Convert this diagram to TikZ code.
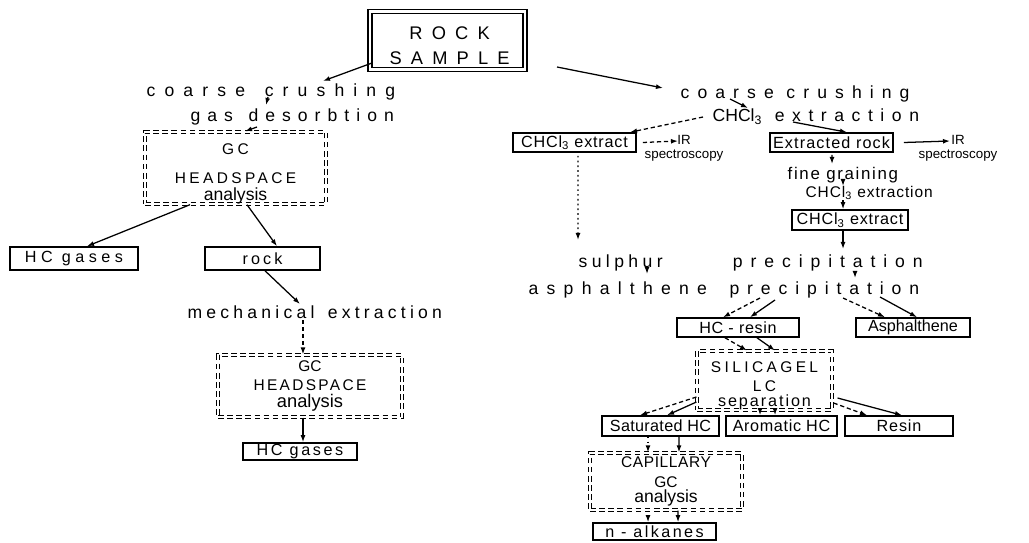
\documentclass[tikz,border=0pt]{standalone}
\usepackage{fontspec}
\setmainfont{Liberation Sans}
\usetikzlibrary{arrows.meta,calc}
\newcommand{\lsp}[1]{\addfontfeature{LetterSpace=#1}}

\begin{document}
\begin{tikzpicture}[x=0.025cm,y=-0.025cm,>={Latex[length=5pt,width=3.5pt]},line width=0.9pt,
lbl/.style={inner sep=0,anchor=west,font=\fontsize{12.5}{14}\selectfont\lsp{#1}},
box/.style={draw,line width=1.1pt,inner sep=0,font=\fontsize{11.5}{13}\selectfont\lsp{5}},
gcbox/.style={draw,double,double distance=1.6pt,dash pattern=on 4pt off 2.5pt,line width=0.8pt,
  inner sep=0,align=center,font=\fontsize{11}{11}\selectfont},
sz/.style 2 args={minimum width=#1*0.025cm,minimum height=#2*0.025cm},
small/.style={inner sep=0,align=center,font=\fontsize{9.5}{10}\selectfont},
dsh/.style={dash pattern=on 3pt off 2pt},
dts/.style={dash pattern=on 1.2pt off 2.2pt}]
\useasboundingbox (0,0) rectangle (1029,542);

\node[draw,double,double distance=2pt,line width=1pt,sz={155}{55},align=center,
  font=\fontsize{13}{17.8}\selectfont\lsp{50}] (rk) at (447.5,40.5)
  {\rule{0pt}{16.5pt}\hspace{3pt}ROCK\\\hspace{3pt}SAMPLE};

% left branch
\node[lbl=52] (crL) at (146,92) {coarse\hspace{14pt}crushing};
\node[lbl=40] (des) at (190,117) {gas\hspace{11pt}desorbtion};
\node[gcbox,sz={181}{70}] (gcA) at (235.5,168)
  {\rule{0pt}{16pt}\lsp{22}GC\\[9.6pt]\lsp{22}HEADSPACE\\[1.2pt]{\fontsize{12.5}{13}\selectfont analysis}};
\node[box,sz={128}{23},font=\fontsize{11.5}{13}\selectfont\lsp{28}] (hcA) at (74,258.5) {HC gases};
\node[box,sz={115}{23},font=\fontsize{11.5}{13}\selectfont\lsp{19}] (rkb) at (262.5,258.5) {rock};
\node[lbl=24] (mech) at (187,312) {mechanical\hspace{3pt} extraction};
\node[gcbox,sz={184}{62}] (gcB) at (310,386)
  {GC\\[2.5pt]\lsp{15}HEADSPACE\\[0.8pt]{\fontsize{13}{13}\selectfont analysis}};
\node[box,sz={114}{17},font=\fontsize{11.5}{13}\selectfont\lsp{16}] (hcB) at (300,451.5) {HC gases};

% right branch
\node[lbl=46] (crR) at (680,94) {coarse\hspace{9pt}crushing};
\node[lbl=43] (chx) at (712,117) {{\lsp{0}CHCl\textsubscript{3}}\hspace{9pt}extraction};
\node[box,sz={123}{19}] (exA) at (574.5,142.5) {CHCl\textsubscript{3} extract};
\node[small] (irA) at (684,148) {IR\\spectroscopy};
\node[box,sz={123}{19},font=\fontsize{11.5}{13}\selectfont\lsp{7}] (exr) at (831.5,142.5) {Extracted rock};
\node[small] (irB) at (958,148) {IR\\spectroscopy};
\node[lbl=8,font=\fontsize{12}{14}\selectfont\lsp{10}] (fine) at (787,175) {fine graining};
\node[lbl=3,font=\fontsize{11}{13}\selectfont\lsp{6}] (chx2) at (805,193) {CHCl\textsubscript{3} extraction};
\node[box,sz={116}{20}] (exB) at (850,220) {CHCl\textsubscript{3} extract};
\node[lbl=45] (sul) at (578,263) {{\lsp{25}sulphur}\hspace{50pt}precipitation};
\node[lbl=45] (asl) at (528,290) {{\lsp{47}asphalthene}\hspace{16pt}precipitation};
\node[box,sz={122}{19},font=\fontsize{11.5}{13}\selectfont\lsp{4}] (hcr) at (738,327.5) {HC - resin};
\node[box,sz={114}{19},font=\fontsize{11.5}{13}\selectfont] (asb) at (913,327.5) {Asphalthene};
\node[gcbox,sz={135}{55}] (sil) at (764.5,380.5)
  {\rule{0pt}{15pt}\lsp{22}SILICAGEL\\[3pt]\lsp{22}LC\\[-0.5pt]{\fontsize{11.5}{11}\selectfont\lsp{12}separation}};
\node[box,sz={117}{20},font=\fontsize{11.5}{13}\selectfont\lsp{2}] (sat) at (660.5,426) {Saturated HC};
\node[box,sz={111}{20},font=\fontsize{11.5}{13}\selectfont\lsp{4}] (aro) at (781.5,426) {Aromatic HC};
\node[box,sz={108}{20}] (res) at (899,426) {Resin};
\node[gcbox,sz={152}{57}] (cap) at (666,481.5)
  {\lsp{4}CAPILLARY\\[3pt]GC\\[0pt]{\fontsize{12.5}{12}\selectfont analysis}};
\node[box,sz={123}{17},font=\fontsize{11.5}{13}\selectfont\lsp{15}] (alk) at (654.5,531.5) {n - alkanes};

\draw[->] ($(rk)+(-75.5,22.5)$) -- ($(crL.west)+(177,-11)$);
\draw[->] ($(rk)+(109.5,26.5)$) -- ($(crR.west)+(-17,-6)$);
\draw[->] ($(crL.west)+(122,5)$) -- ($(des.west)+(76,-12)$);
\draw[->] ($(des.west)+(67,10)$) -- ($(gcA.north)+(9.5,0)$);
\draw[->] ($(gcA.south)+(-45.5,0)$) -- ($(hcA.north)+(13,0)$);
\draw[->] ($(gcA.south)+(11.5,0)$) -- ($(rkb.north)+(14.5,0)$);
\draw[->] ($(rkb.south)+(2.5,0)$) -- ($(mech.west)+(113,-8)$);
\draw[->,dsh] ($(mech.west)+(116,8)$) -- ($(gcB.north)+(-7,0)$);
\draw[->] ($(gcB.south)+(-7,0)$) -- ($(hcB.north)+(3,0)$);

\draw[->] ($(crR.west)+(50,5)$) -- ($(chx.west)+(36,-9)$);
\draw[->,dsh] ($(chx.west)+(-9,0)$) -- ($(exA.north)+(55.5,0)$);
\draw[->] ($(chx.west)+(81,5)$) -- ($(exr.north)+(15.5,0)$);
\draw[->,dsh] ($(exA.east)+(6,0)$) -- ($(irA)+(-6,-7)$);
\draw[->] ($(exr.east)+(10,0)$) -- ($(irB)+(-8,-7)$);
\draw[->,dts] ($(exA.south)+(3.5,3)$) -- ($(sul.west)+(0,-23)$);
\draw[->] ($(exr.south)+(0.5,2)$) -- ($(fine.west)+(45,-11)$);
\draw[->] ($(fine.west)+(56,6)$) -- ($(chx2.west)+(38,-7)$);
\draw[->] ($(chx2.west)+(38,7)$) -- ($(exB.north)+(-7,0)$);
\draw[->] ($(exB.south)+(-7,0)$) -- ($(sul.west)+(265,-14)$);
\draw[->,dts] ($(sul.west)+(69,5)$) -- ($(asl.west)+(119,-16)$);
\draw[->] ($(sul.west)+(277,8)$) -- ($(asl.west)+(327,-12)$);
\draw[->,dsh] ($(asl.west)+(232,8)$) -- ($(hcr.north)+(-15,0)$);
\draw[->] ($(asl.west)+(247,10)$) -- ($(hcr.north)+(12,0)$);
\draw[->,dsh] ($(asl.west)+(315,8)$) -- ($(asb.north)+(-28,0)$);
\draw[->] ($(asl.west)+(352,7)$) -- ($(asb.north)+(4,0)$);
\draw[->,dsh] ($(hcr.south)+(-13,0)$) -- ($(sil.north)+(-17.5,0)$);
\draw[->] ($(hcr.south)+(19,0)$) -- ($(sil.north)+(10.5,0)$);
\draw[->,dsh] ($(sil.west)+(0,16.5)$) -- ($(sat.north)+(-20.5,0)$);
\draw[->] ($(sil.west)+(0,21.5)$) -- ($(sat.north)+(6.5,0)$);
\draw[->] ($(sil.south)+(-4.5,0)$) -- ($(aro.north)+(-21.5,0)$);
\draw[->] ($(sil.south)+(10.5,0)$) -- ($(aro.north)+(-6.5,0)$);
\draw[->,dsh] ($(sil.east)+(1,22.5)$) -- ($(res.north)+(-32,0)$);
\draw[->] ($(sil.east)+(5,17.5)$) -- ($(res.north)+(3,0)$);
\draw[->,dts] ($(sat.south)+(-12.5,0)$) -- ($(cap.north)+(-18,0)$);
\draw[->] ($(sat.south)+(18.5,0)$) -- ($(cap.north)+(13,0)$);
\draw[->,dts] ($(cap.south)+(-18,0)$) -- ($(alk.north)+(-6.5,0)$);
\draw[->] ($(cap.south)+(12,0)$) -- ($(alk.north)+(23.5,0)$);
\end{tikzpicture}
\end{document}
